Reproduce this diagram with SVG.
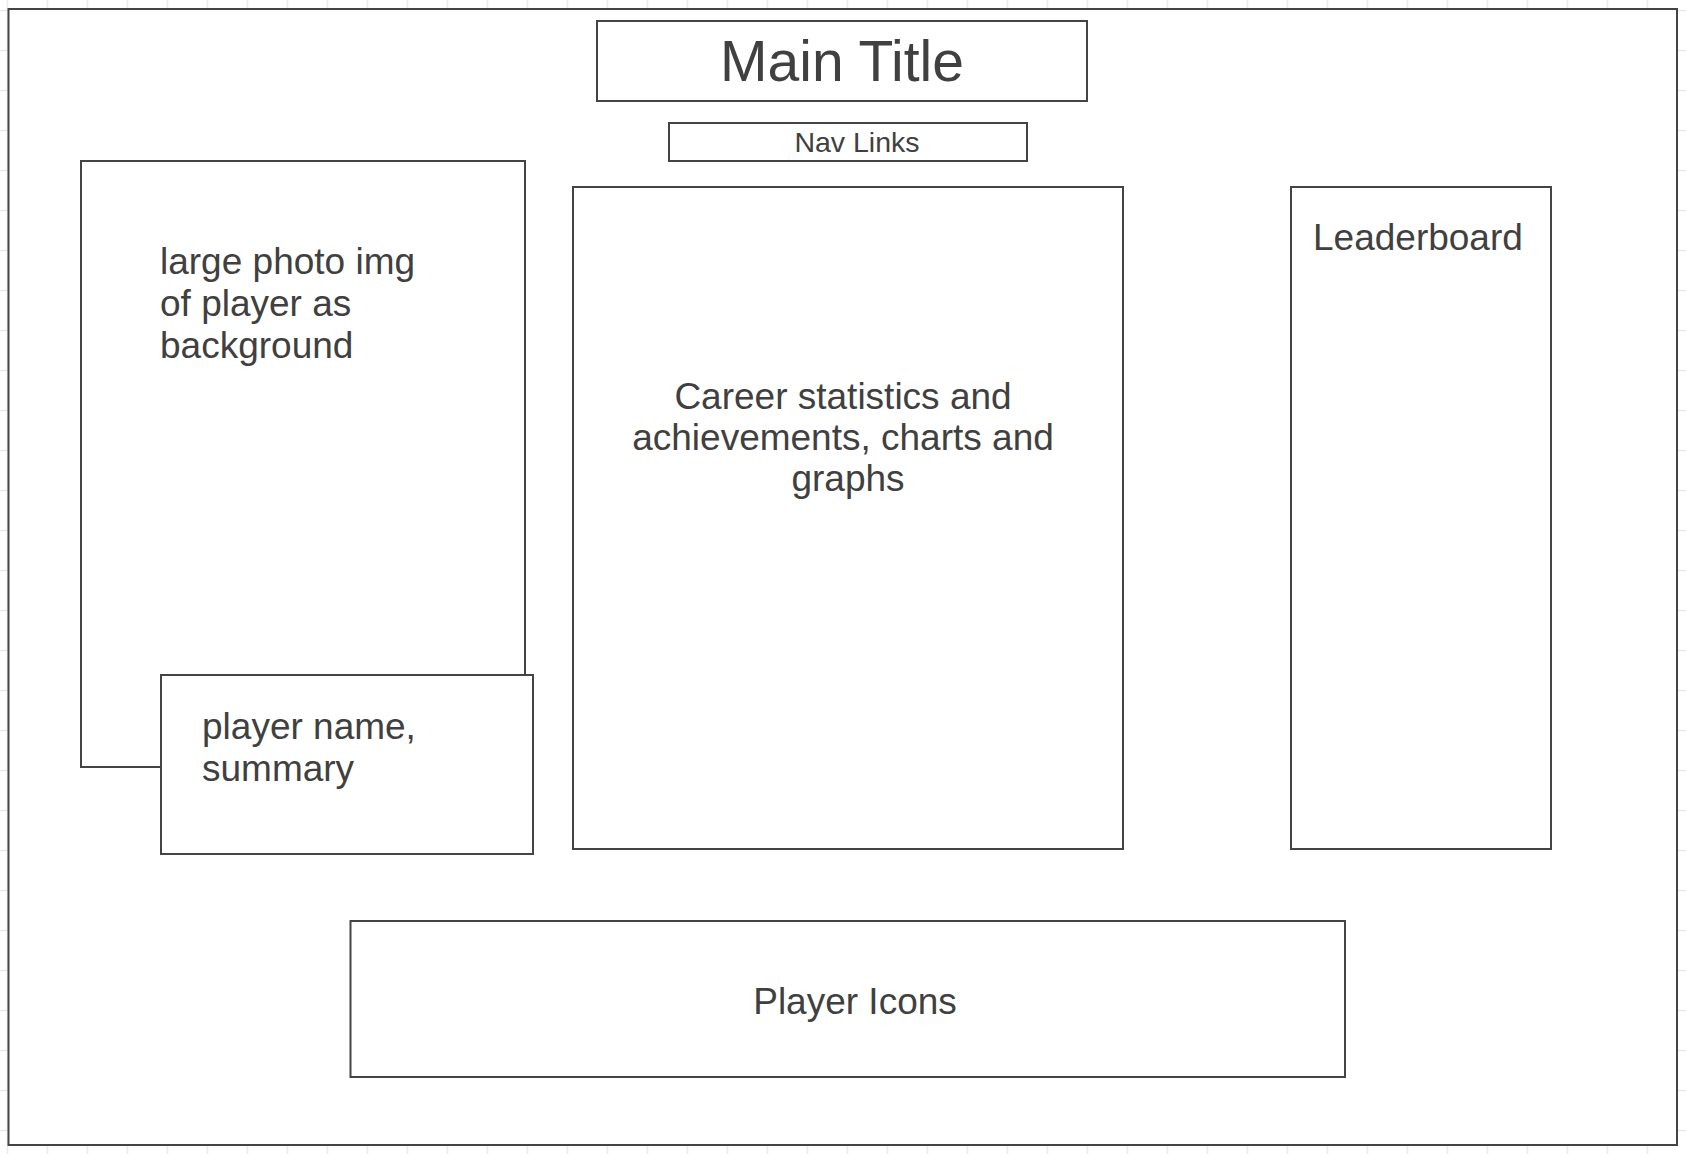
<svg xmlns="http://www.w3.org/2000/svg" width="1686" height="1154" viewBox="0 0 1686 1154">
<defs>
<pattern id="grid" x="6.7" y="10" width="40" height="40" patternUnits="userSpaceOnUse">
<path d="M0 0 V40 M0 0 H40" fill="none" stroke="#e6e6e6" stroke-width="2.6"/>
</pattern>
</defs>
<style>
.box{fill:#ffffff;stroke:#444444;stroke-width:2}
.t{font-family:"Liberation Sans",Arial,sans-serif;fill:#404040;font-size:37px}
.c{text-anchor:middle}
</style>
<rect x="0" y="0" width="1686" height="1154" fill="#ffffff"/>
<rect x="0" y="0" width="1686" height="1154" fill="url(#grid)"/>
<g id="frame"><rect class="box" x="8.5" y="9" width="1668.5" height="1136"/></g>
<g id="title">
<rect class="box" x="597" y="21" width="490" height="80"/>
<text class="t c" x="842" y="81" style="font-size:57px">Main Title</text>
</g>
<g id="nav">
<rect class="box" x="669" y="123" width="358" height="38"/>
<text class="t c" x="857" y="152" style="font-size:28.5px">Nav Links</text>
</g>
<g id="photo">
<rect class="box" x="81" y="161" width="444" height="606"/>
<text class="t" x="160" y="274">large photo img</text>
<text class="t" x="160" y="316">of player as</text>
<text class="t" x="160" y="358">background</text>
</g>
<g id="playername">
<rect class="box" x="161" y="675" width="372" height="179"/>
<text class="t" x="202" y="739">player name,</text>
<text class="t" x="202" y="781">summary</text>
</g>
<g id="career">
<rect class="box" x="573" y="187" width="550" height="662"/>
<text class="t c" x="843" y="409">Career statistics and</text>
<text class="t c" x="843" y="450">achievements, charts and</text>
<text class="t c" x="848" y="491">graphs</text>
</g>
<g id="leaderboard">
<rect class="box" x="1291" y="187" width="260" height="662"/>
<text class="t" x="1313" y="250">Leaderboard</text>
</g>
<g id="icons">
<rect class="box" x="350.5" y="921" width="994.5" height="156"/>
<text class="t c" x="855" y="1014">Player Icons</text>
</g>
<g id="connectors"/>
</svg>
